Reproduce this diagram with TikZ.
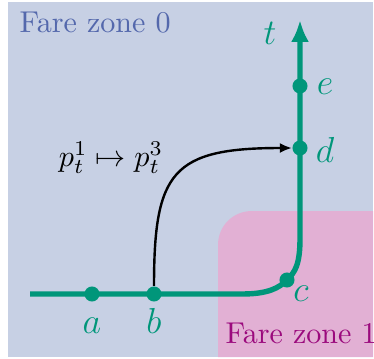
\documentclass[tikz,border=0pt]{standalone}
\usetikzlibrary{arrows.meta}
\definecolor{bgblue}{RGB}{199,208,228}
\definecolor{zonepink}{RGB}{226,176,212}
\definecolor{tealline}{RGB}{0,150,122}
\definecolor{zonezerotext}{RGB}{84,104,172}
\definecolor{zoneonetext}{RGB}{155,10,125}
\begin{document}
\begin{tikzpicture}[x=0.332pt,y=-0.332pt,
  dot/.style={circle, fill=tealline, inner sep=0pt, minimum size=5pt},
  lab/.style={text=tealline, font=\large, inner sep=0pt, anchor=base},
  zonetext/.style={inner sep=0pt, anchor=base west},
  tline/.style={draw=tealline, line width=1.8pt},
  mapline/.style={draw=black, line width=0.8pt, -{Latex[length=4pt,width=3.4pt]}}]
\useasboundingbox (0,0) rectangle (374,358);
\fill[bgblue] (8,2) rectangle (373,357);
\fill[zonepink] (218,357) -- (218,245) .. controls (218,226) and (233,211) .. (252,211) -- (373,211) -- (373,357) -- cycle;
\node[zonetext, text=zonezerotext] (z0) at (19,33) {Fare zone 0};
\node[zonetext, text=zoneonetext] (z1) at (225,343) {Fare zone 1};
% dots
\node[dot] (a) at (92,294) {};
\node[dot] (b) at (154,294) {};
\node[dot] (c) at (287,280) {};
\node[dot] (d) at (300,148) {};
\node[dot] (e) at (300,86) {};
\coordinate (start) at (30,294);
\coordinate (k1) at (242,294);
\coordinate (k2) at (300,238);
\coordinate (top) at (300,20);
% green axis
\draw[tline, -{Latex[length=7.3pt,width=6pt]}] (start) -- (k1) .. controls (268,294) and (279,288) .. (c.center) .. controls (295,272) and (300,265) .. (k2) -- (top);
% black map
\draw[mapline] (b) .. controls (154,172) and (172,148) .. (d);
% labels
\node[lab] (la) at (92,333) {$a$};
\node[lab] (lb) at (154,333) {$b$};
\node[lab] (lc) at (301,301) {$c$};
\node[lab] (ld) at (325,162) {$d$};
\node[lab] (le) at (325,95) {$e$};
\node[lab] (lt) at (270,45) {$t$};
\node[inner sep=0pt, anchor=base] (pmap) at (111,166) {$p_t^1\mapsto p_t^3$};
\end{tikzpicture}
\end{document}
